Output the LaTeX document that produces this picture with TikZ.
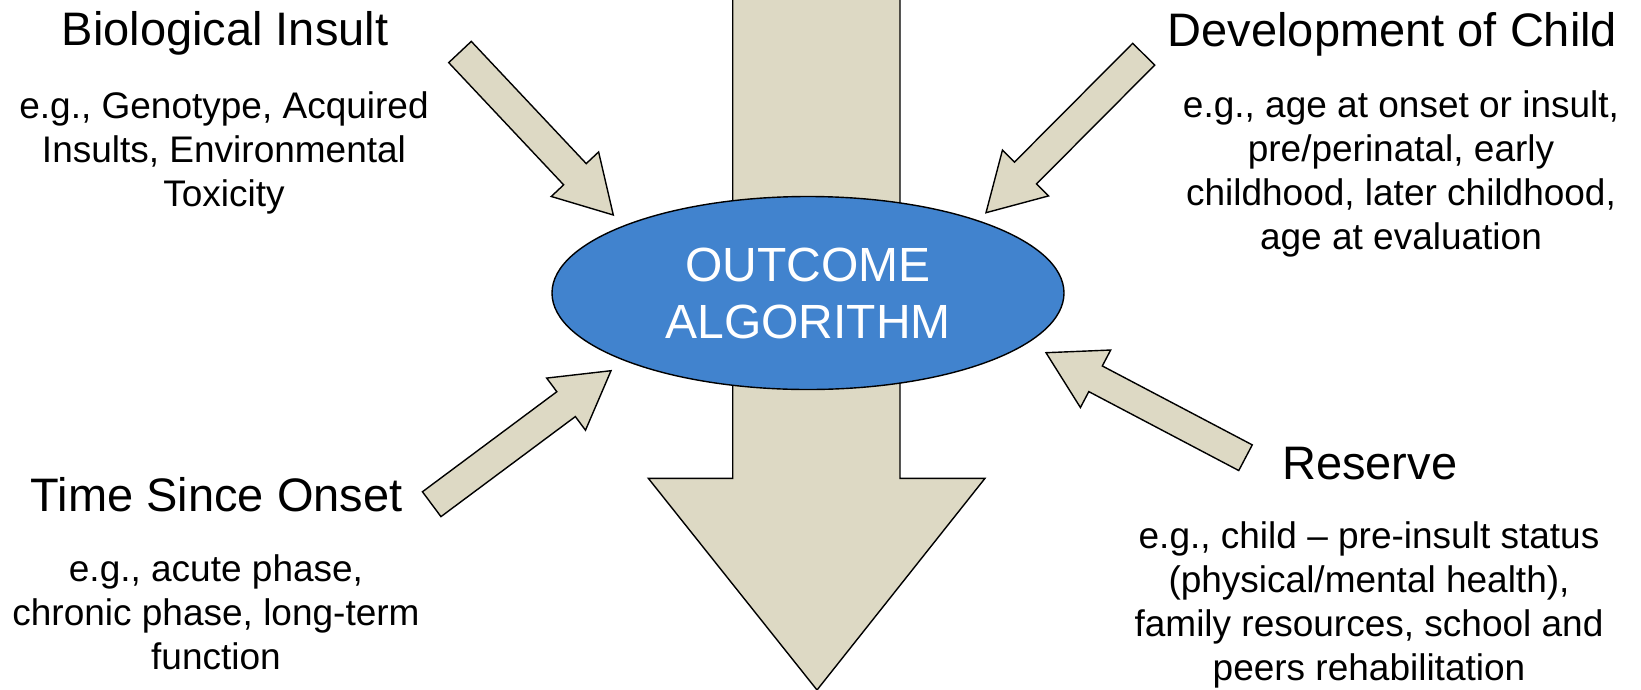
\documentclass[tikz,border=0pt]{standalone}
\usepackage{fontspec}
\setmainfont{Liberation Sans}
\usetikzlibrary{shapes.geometric,calc}
\definecolor{tanfill}{RGB}{221,217,196}
\definecolor{ovalblue}{RGB}{65,131,206}
\tikzset{
  arrowbody/.style={fill=tanfill, draw=black, line width=1.4pt, line join=miter},
  headtxt/.style={font=\fontsize{47}{52}\selectfont, anchor=base, inner sep=0pt},
  bodytxt/.style={font=\fontsize{37}{44}\selectfont, align=center, anchor=base, inner sep=0pt},
}
\newcommand\blockarrow[3]{%
  \coordinate (#1-h) at ($(#2)!56pt!(#1)$);
  \draw[arrowbody] ($(#1)!#3!90:(#2)$) -- ($(#1-h)!#3!90:(#2)$) -- ($(#1-h)!32.5pt!90:(#2)$) -- (#2)
    -- ($(#1-h)!32.5pt!-90:(#2)$) -- ($(#1-h)!#3!-90:(#2)$) -- ($(#1)!#3!-90:(#2)$) -- cycle;
}
\begin{document}
\begin{tikzpicture}[x=1pt,y=-1pt]
\useasboundingbox (0,0) rectangle (1641,689);
% big downward arrow
\coordinate (bigtop) at (816.3,-10);
\coordinate (bigtip) at (817,690);
\draw[arrowbody] (732.7,-10) -- (732.7,478.3) -- (648.3,478.3) -- (bigtip) -- (985,478.3) -- (900,478.3) -- (900,-10) -- cycle;
% central ellipse
\node[ellipse, draw=black, line width=1.4pt, fill=ovalblue, minimum width=512pt, minimum height=193pt, inner sep=0pt,
      text=white, align=center, font=\fontsize{48}{57}\selectfont] (oa) at (808,293) {OUTCOME\\ALGORITHM};
% small arrows
\coordinate (t1) at (460,52);      \coordinate (p1) at (613.3,215);
\coordinate (t2) at (1143.7,54.2); \coordinate (p2) at (986,212.7);
\coordinate (t3) at (431.7,504.2); \coordinate (p3) at (611,370.7);
\coordinate (t4) at (1245.5,457.7);\coordinate (p4) at (1046,352.7);
\blockarrow{t1}{p1}{15.5pt}
\blockarrow{t2}{p2}{15.5pt}
\blockarrow{t3}{p3}{15.5pt}
\blockarrow{t4}{p4}{14.5pt}
% texts (multi-line nodes: base = last line's baseline)
\node[headtxt] (h1) at (225,45) {Biological Insult};
\node[bodytxt] (b1) at (224,206) {e.g., Genotype, Acquired\\Insults, Environmental\\Toxicity};
\node[headtxt] (h2) at (1392.5,46) {Development of Child};
\node[bodytxt] (b2) at (1401,249) {e.g., age at onset or insult,\\pre/perinatal, early\\childhood, later childhood,\\age at evaluation};
\node[headtxt] (h3) at (216.7,511) {Time Since Onset};
\node[bodytxt] (b3) at (216,669) {e.g., acute phase,\\chronic phase, long-term\\function};
\node[headtxt] (h4) at (1369.7,479) {Reserve};
\node[bodytxt] (b4) at (1369,680) {e.g., child -- pre-insult status\\(physical/mental health),\\family resources, school and\\peers rehabilitation};
\end{tikzpicture}
\end{document}
